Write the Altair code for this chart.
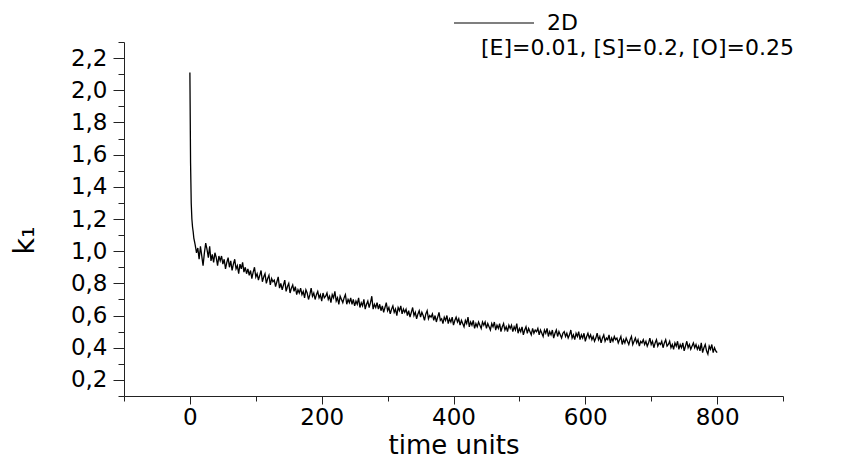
import altair as alt
import pandas as pd

# initial steep drop (time units 0..6)
early_times = [0, 1, 2, 3, 4, 5, 6]
early_k1 = [2.11, 1.55, 1.30, 1.20, 1.15, 1.12, 1.08]

# noisy decay, one reading every 2 time units from 8 to 800
late_k1 = [
    1.04, 0.99, 1.02, 0.95, 1.03, 0.97, 0.91, 0.99, 1.05, 1.01, 0.96, 1.03, 0.94, 0.98, 0.93, 0.99, 0.96, 0.91, 0.97, 0.94,
    0.97, 0.92, 0.95, 0.89, 0.93, 0.96, 0.90, 0.94, 0.88, 0.92, 0.95, 0.89, 0.91, 0.86, 0.92, 0.89, 0.93, 0.87, 0.90, 0.86,
    0.89, 0.85, 0.88, 0.83, 0.87, 0.90, 0.84, 0.86, 0.82, 0.85, 0.88, 0.81, 0.84, 0.86, 0.80, 0.83, 0.85, 0.79, 0.83, 0.81,
    0.82, 0.78, 0.81, 0.84, 0.77, 0.80, 0.76, 0.79, 0.82, 0.75, 0.78, 0.80, 0.74, 0.77, 0.79, 0.75, 0.78, 0.73, 0.76, 0.74,
    0.77, 0.73, 0.75, 0.71, 0.76, 0.74, 0.70, 0.73, 0.77, 0.72, 0.74, 0.70, 0.73, 0.75, 0.71, 0.73, 0.69, 0.74, 0.71, 0.72,
    0.74, 0.70, 0.72, 0.68, 0.73, 0.71, 0.75, 0.69, 0.71, 0.67, 0.72, 0.70, 0.68, 0.71, 0.73, 0.67, 0.70, 0.68, 0.71, 0.67,
    0.70, 0.66, 0.69, 0.67, 0.71, 0.65, 0.68, 0.66, 0.70, 0.64, 0.67, 0.69, 0.65, 0.68, 0.72, 0.64, 0.67, 0.65, 0.68, 0.64,
    0.67, 0.63, 0.66, 0.62, 0.65, 0.68, 0.63, 0.65, 0.61, 0.64, 0.66, 0.62, 0.64, 0.60, 0.65, 0.63, 0.66, 0.61, 0.64, 0.62,
    0.64, 0.60, 0.63, 0.59, 0.62, 0.65, 0.60, 0.62, 0.58, 0.61, 0.63, 0.59, 0.62, 0.60, 0.57, 0.61, 0.63, 0.58, 0.60, 0.59,
    0.61, 0.57, 0.60, 0.56, 0.59, 0.62, 0.57, 0.58, 0.55, 0.59, 0.57, 0.60, 0.55, 0.58, 0.56, 0.59, 0.54, 0.57, 0.59, 0.56,
    0.58, 0.54, 0.57, 0.55, 0.53, 0.57, 0.55, 0.59, 0.53, 0.56, 0.54, 0.57, 0.52, 0.55, 0.53, 0.56, 0.54, 0.52, 0.56, 0.54,
    0.56, 0.52, 0.55, 0.53, 0.51, 0.55, 0.53, 0.56, 0.51, 0.54, 0.52, 0.55, 0.50, 0.53, 0.55, 0.51, 0.53, 0.50, 0.54, 0.52,
    0.54, 0.50, 0.53, 0.51, 0.55, 0.49, 0.52, 0.50, 0.53, 0.48, 0.51, 0.53, 0.49, 0.52, 0.50, 0.48, 0.52, 0.49, 0.51, 0.50,
    0.52, 0.48, 0.51, 0.49, 0.47, 0.51, 0.49, 0.52, 0.47, 0.50, 0.48, 0.51, 0.46, 0.49, 0.51, 0.47, 0.50, 0.48, 0.46, 0.49,
    0.50, 0.47, 0.49, 0.46, 0.48, 0.51, 0.46, 0.48, 0.45, 0.49, 0.47, 0.50, 0.45, 0.48, 0.46, 0.49, 0.44, 0.47, 0.49, 0.46,
    0.48, 0.45, 0.47, 0.44, 0.46, 0.49, 0.45, 0.47, 0.43, 0.46, 0.48, 0.44, 0.46, 0.45, 0.48, 0.43, 0.46, 0.44, 0.47, 0.45,
    0.46, 0.43, 0.45, 0.47, 0.42, 0.45, 0.43, 0.46, 0.44, 0.42, 0.45, 0.47, 0.42, 0.44, 0.46, 0.43, 0.45, 0.41, 0.44, 0.43,
    0.45, 0.42, 0.44, 0.41, 0.43, 0.46, 0.42, 0.44, 0.40, 0.43, 0.45, 0.41, 0.43, 0.42, 0.44, 0.40, 0.43, 0.45, 0.41, 0.42,
    0.44, 0.40, 0.42, 0.39, 0.43, 0.41, 0.44, 0.39, 0.42, 0.40, 0.43, 0.38, 0.41, 0.44, 0.40, 0.42, 0.39, 0.41, 0.43, 0.40,
    0.42, 0.39, 0.41, 0.38, 0.43, 0.37, 0.40, 0.42, 0.38, 0.36, 0.41, 0.39, 0.42, 0.37, 0.40, 0.38, 0.37,
]
late_times = list(range(8, 801, 2))

series_name = "2D"
legend_note = "[E]=0.01, [S]=0.2, [O]=0.25"

x_major = [0, 200, 400, 600, 800]
x_minor = [-100, 100, 300, 500, 700, 900]
y_major = [0.2, 0.4, 0.6, 0.8, 1.0, 1.2, 1.4, 1.6, 1.8, 2.0, 2.2]
y_minor = [0.1, 0.3, 0.5, 0.7, 0.9, 1.1, 1.3, 1.5, 1.7, 1.9, 2.1, 2.3]

df = pd.DataFrame({
    "t": early_times + late_times,
    "k": early_k1 + late_k1,
    "series": series_name,
    "note": legend_note,
})

FONT = "DejaVu Sans"
AX = "#222222"

x_scale = alt.Scale(domain=[-100, 900], nice=False, zero=False)
y_scale = alt.Scale(domain=[0.1, 2.3], nice=False, zero=False)

x_axis_major = alt.Axis(
    values=x_major, format="d", orient="bottom", grid=False,
    tickSize=8, tickColor=AX, domainColor=AX, tickWidth=1, domainWidth=1,
    labelFont=FONT, labelFontSize=23, labelColor="black", labelPadding=2,
    labelFlush=False, labelOverlap=False,
    title="time units", titleFont=FONT, titleFontSize=26, titleFontWeight="normal",
    titleColor="black", titleY=57, titleBaseline="alphabetic",
)
y_axis_major = alt.Axis(
    values=y_major, orient="left", grid=False,
    labelExpr="replace(format(datum.value, '.1f'), '.', ',')",
    tickSize=11, tickColor=AX, domainColor=AX, tickWidth=1, domainWidth=1,
    labelFont=FONT, labelFontSize=23, labelColor="black", labelPadding=6,
    labelFlush=False, labelOverlap=False,
    title="k₁", titleFont=FONT, titleFontSize=29, titleFontWeight="normal",
    titleColor="black", titleX=-91, titleY=198, titleAngle=270,
    titleAlign="center", titleBaseline="alphabetic",
)
x_axis_minor = alt.Axis(
    values=x_minor, orient="bottom", grid=False, labels=False, domain=False,
    tickSize=5, tickColor=AX, tickWidth=1, title=None,
)
y_axis_minor = alt.Axis(
    values=y_minor, orient="left", grid=False, labels=False, domain=False,
    tickSize=6, tickColor=AX, tickWidth=1, title=None,
)

base = alt.Chart(df)

line = base.mark_line(strokeWidth=1.3, interpolate="linear").encode(
    x=alt.X("t:Q", scale=x_scale, axis=x_axis_major),
    y=alt.Y("k:Q", scale=y_scale, axis=y_axis_major),
    color=alt.Color(
        "series:N",
        scale=alt.Scale(range=["black"]),
        legend=alt.Legend(
            orient="none", legendX=329, legendY=-60, title=None,
            symbolType="stroke", symbolSize=6400, symbolStrokeWidth=1.2,
            labelFont=FONT, labelFontSize=22, labelColor="black",
            labelOffset=12, padding=0,
        ),
    ),
    strokeDash=alt.StrokeDash(
        "note:N",
        scale=alt.Scale(range=[[1, 0]]),
        legend=alt.Legend(
            orient="none", legendX=335, legendY=-5, title=None,
            symbolSize=0, symbolOpacity=0, symbolStrokeWidth=0,
            labelFont=FONT, labelFontSize=22, labelColor="black",
            labelOffset=0, labelLimit=700, padding=0,
        ),
    ),
)

minor = base.mark_line(strokeOpacity=0).encode(
    x=alt.X("t:Q", axis=x_axis_minor),
    y=alt.Y("k:Q", axis=y_axis_minor),
)

chart = (
    alt.layer(line, minor)
    .resolve_axis(x="independent", y="independent")
    .properties(
        width=659,
        height=354,
        autosize=alt.AutoSizeParams(type="none"),
        padding={"left": 116, "top": 34, "right": 54, "bottom": 63},
    )
    .configure_view(stroke="transparent")
)

chart.save("out.html", embed_options={"renderer": "svg", "actions": False})
